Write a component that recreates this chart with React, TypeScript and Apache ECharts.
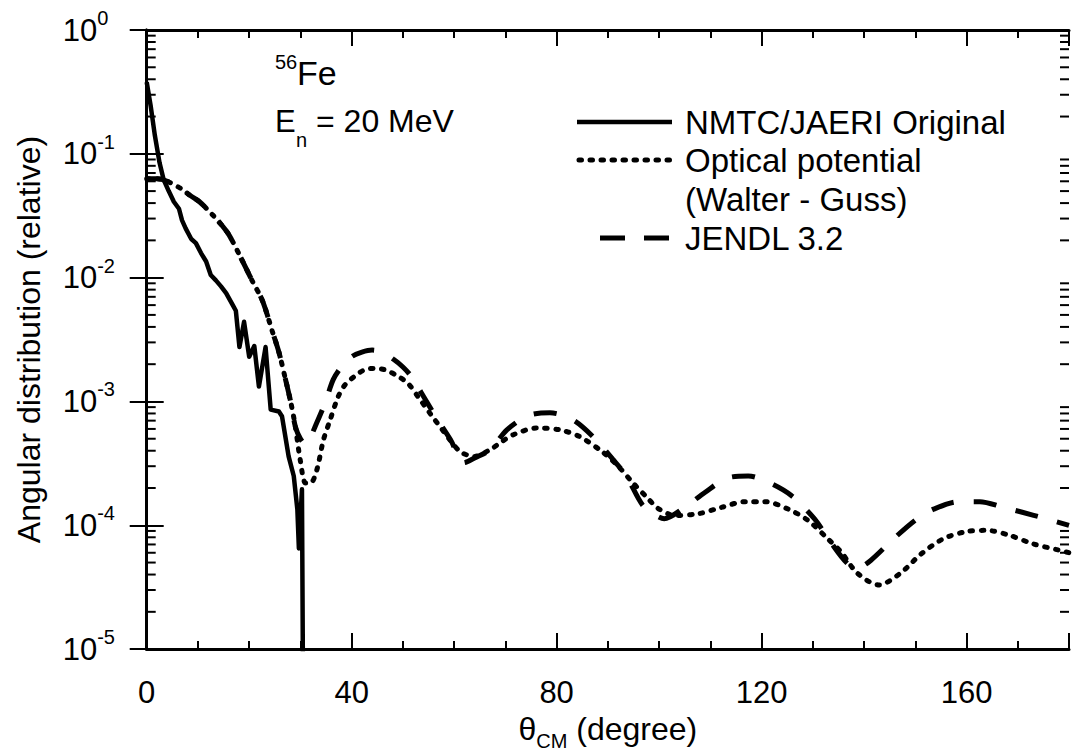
import React, { useEffect, useRef } from 'react';
import * as echarts from 'echarts';

const FONT = '"Liberation Sans", Arial, Helvetica, sans-serif';

// NMTC/JAERI Original (solid)
const nmtcAngle = [0, 0.8, 1.6, 2.5, 3.3, 4.3, 5.3, 6.3, 6.9, 7.6, 8.7, 9.6, 10.6, 11.6, 12.5, 13.5, 14.5, 15.5, 16.8, 17.4, 18.1, 19.0, 20.0, 21.0, 21.9, 23.2, 24.2, 25.8, 26.4, 27.7, 28.7, 29.4, 29.7, 30.3, 30.6];
const nmtcValue = [0.38, 0.24, 0.14, 0.085, 0.062, 0.05, 0.041, 0.036, 0.029, 0.025, 0.0205, 0.019, 0.0158, 0.0135, 0.0105, 0.0095, 0.0085, 0.0075, 0.006, 0.0054, 0.00275, 0.0044, 0.0023, 0.0028, 0.00132, 0.00275, 0.00086, 0.00083, 0.00076, 0.00036, 0.00025, 0.000135, 0.000065, 0.000195, 0.000001];

// Optical potential (Walter - Guss) (dotted)
const opticalAngle = [0, 2, 4, 6.8, 8.5, 10.3, 12.9, 14.5, 16.1, 18.7, 20.6, 22.6, 24.5, 25.8, 27.1, 28.2, 29.0, 30.0, 31.0, 32.0, 33.2, 34.5, 35.8, 37.4, 38.7, 40.6, 42.5, 44.5, 46.5, 49, 51, 52.9, 55.5, 57.7, 59.5, 61.3, 63.9, 67.1, 69.5, 71.6, 76.1, 80.6, 84.5, 89, 92, 94.9, 97.5, 100, 103.2, 107.7, 112.3, 116.8, 120.7, 125.2, 129, 132.9, 135.5, 138.7, 142.9, 147.1, 151, 155.5, 160, 163.9, 168.4, 172.9, 178, 180];
const opticalValue = [0.063, 0.063, 0.06, 0.052, 0.046, 0.041, 0.032, 0.027, 0.022, 0.0136, 0.0094, 0.0065, 0.0037, 0.0025, 0.0015, 0.00095, 0.00063, 0.00033, 0.00022, 0.00022, 0.00028, 0.00049, 0.00071, 0.0011, 0.00136, 0.0016, 0.0018, 0.00185, 0.0018, 0.0016, 0.0014, 0.0011, 0.00078, 0.00059, 0.00047, 0.00039, 0.00036, 0.00041, 0.00048, 0.00054, 0.00061, 0.00059, 0.00052, 0.00039, 0.0003, 0.00022, 0.00017, 0.000135, 0.00012, 0.000124, 0.00014, 0.000155, 0.000155, 0.000135, 0.00011, 0.000078, 0.000061, 0.000041, 0.000033, 0.000041, 0.000058, 0.000078, 0.000089, 0.000091, 0.000083, 0.000071, 0.000063, 0.00006];

// JENDL 3.2 (long dashes)
const jendlAngle = [0, 2, 4, 6.8, 8.5, 10.3, 12.9, 14.5, 16.1, 18.7, 20.6, 22.6, 24.5, 25.8, 27.1, 28.2, 29.0, 30, 31, 32, 32.9, 34.8, 36.4, 38, 40, 42, 44, 46, 48.1, 50, 51.6, 54.8, 56.8, 59.3, 61.9, 64, 67.1, 70.3, 74.5, 78.7, 83.2, 87.1, 91, 93.6, 96.8, 99.4, 101, 104.5, 109, 113.2, 117.4, 121.6, 125.8, 130.3, 133.2, 136.8, 139, 141.3, 145.8, 150, 153.6, 158.4, 162.6, 167.1, 170.7, 175.5, 180];
const jendlValue = [0.063, 0.063, 0.06, 0.052, 0.046, 0.041, 0.032, 0.027, 0.022, 0.0136, 0.0094, 0.0065, 0.0037, 0.0025, 0.0015, 0.00095, 0.00063, 0.0005, 0.00045, 0.00052, 0.00063, 0.00097, 0.0015, 0.0019, 0.0023, 0.0025, 0.0026, 0.0025, 0.0022, 0.0019, 0.0016, 0.00097, 0.00071, 0.00049, 0.00032, 0.00035, 0.00041, 0.00059, 0.00077, 0.00081, 0.00071, 0.00052, 0.00034, 0.00025, 0.000145, 0.00012, 0.000113, 0.000135, 0.000185, 0.00024, 0.00025, 0.00022, 0.000174, 0.000113, 0.000076, 0.000049, 0.000046, 0.000052, 0.000078, 0.00011, 0.000135, 0.000155, 0.000155, 0.00014, 0.000128, 0.000113, 0.0001];

const seriesNames = ['NMTC/JAERI Original', 'Optical potential', '(Walter - Guss)', 'JENDL 3.2'];
const xTickLabels = ['0', '40', '80', '120', '160'];
const yTickValues = [1e-5, 1e-4, 1e-3, 1e-2, 1e-1, 1];
const yTickExponents = ['-5', '-4', '-3', '-2', '-1', '0'];

const zip = (a: number[], b: number[]) => a.map((x, i) => [x, b[i]]);

export default function App() {
  const ref = useRef<HTMLDivElement>(null);
  useEffect(() => {
    if (!ref.current) return;
    const chart = echarts.init(ref.current, null, { renderer: 'svg' });

    const minorY: number[][] = [];
    for (let d = -5; d < 0; d++) {
      for (let m = 2; m <= 9; m++) minorY.push([0, m * Math.pow(10, d)]);
    }

    const black = '#000';
    const xBase = {
      type: 'value' as const,
      min: 0,
      max: 180,
      splitLine: { show: false },
      axisLabel: { show: false },
    };

    const option: any = {
      animation: false,
      backgroundColor: '#fff',
      grid: { left: 146.7, top: 30, width: 930, height: 625, containLabel: false },
      xAxis: [
        {
          ...xBase,
          position: 'bottom',
          interval: 10,
          axisLine: { show: true, lineStyle: { color: black, width: 3 } },
          axisTick: { show: true, inside: true, length: 8, lineStyle: { color: black, width: 2 } },
        },
        {
          ...xBase,
          position: 'bottom',
          interval: 40,
          axisLine: { show: false },
          axisTick: { show: true, inside: true, length: 16, lineStyle: { color: black, width: 2 } },
          axisLabel: {
            show: true,
            margin: 28,
            color: black,
            fontSize: 31,
            fontFamily: FONT,
            formatter: (v: number) => {
              const i = Math.round(v / 40);
              return Math.abs(v - i * 40) < 1e-6 && i < xTickLabels.length ? xTickLabels[i] : '';
            },
          },
          name: '{t|θ}{s|CM}{t| (degree)}',
          nameLocation: 'middle',
          nameGap: 47,
          nameTextStyle: {
            color: black,
            rich: {
              t: { fontSize: 32, fontFamily: FONT, color: black, lineHeight: 44 },
              s: { fontSize: 20, fontFamily: FONT, color: black, lineHeight: 14, verticalAlign: 'bottom' },
            },
          },
        },
        {
          ...xBase,
          position: 'top',
          interval: 10,
          axisLine: { show: true, lineStyle: { color: black, width: 3 } },
          axisTick: { show: true, inside: true, length: 8, lineStyle: { color: black, width: 2 } },
        },
        {
          ...xBase,
          position: 'top',
          interval: 40,
          axisLine: { show: false },
          axisTick: { show: true, inside: true, length: 16, lineStyle: { color: black, width: 2 } },
        },
      ],
      yAxis: [
        {
          type: 'log',
          logBase: 10,
          min: 1e-5,
          max: 1,
          position: 'left',
          splitLine: { show: false },
          axisLine: { show: true, lineStyle: { color: black, width: 3 } },
          axisTick: { show: true, inside: true, length: 17, lineStyle: { color: black, width: 2 } },
          axisLabel: {
            show: true,
            showMinLabel: true,
            showMaxLabel: true,
            align: 'left',
            margin: 84,
            formatter: (v: number) => {
              let best = 0;
              for (let i = 0; i < yTickValues.length; i++) {
                if (Math.abs(Math.log10(v) - Math.log10(yTickValues[i])) < Math.abs(Math.log10(v) - Math.log10(yTickValues[best]))) best = i;
              }
              return '{b|10}{s|' + yTickExponents[best] + '}';
            },
            rich: {
              b: { fontSize: 31, fontFamily: FONT, color: black, lineHeight: 44 },
              s: { fontSize: 20, fontFamily: FONT, color: black, lineHeight: 24, verticalAlign: 'top' },
            },
          },
          name: 'Angular distribution (relative)',
          nameLocation: 'middle',
          nameGap: 102,
          nameTextStyle: { color: black, fontSize: 32, fontFamily: FONT },
        },
        {
          type: 'log',
          logBase: 10,
          min: 1e-5,
          max: 1,
          position: 'right',
          splitLine: { show: false },
          axisLine: { show: true, lineStyle: { color: black, width: 3 } },
          axisTick: { show: true, inside: true, length: 17, lineStyle: { color: black, width: 2 } },
          axisLabel: { show: false },
        },
      ],
      series: [
        {
          name: seriesNames[0],
          type: 'line',
          xAxisIndex: 1,
          yAxisIndex: 0,
          data: zip(nmtcAngle, nmtcValue),
          showSymbol: false,
          clip: true,
          lineStyle: { color: black, width: 4.5, join: 'round' },
          z: 4,
        },
        {
          name: seriesNames[1],
          type: 'line',
          xAxisIndex: 1,
          yAxisIndex: 0,
          data: zip(opticalAngle, opticalValue),
          showSymbol: false,
          smooth: 0.3,
          clip: true,
          lineStyle: { color: black, width: 5, type: [2.5, 8.5], cap: 'round' },
          z: 3,
        },
        {
          name: seriesNames[3],
          type: 'line',
          xAxisIndex: 1,
          yAxisIndex: 0,
          data: zip(jendlAngle, jendlValue),
          showSymbol: false,
          smooth: 0.3,
          clip: true,
          lineStyle: { color: black, width: 5, type: [23, 20] },
          z: 3,
        },
        {
          type: 'custom',
          xAxisIndex: 1,
          yAxisIndex: 0,
          data: minorY,
          encode: { x: 0, y: 1 },
          silent: true,
          renderItem: (params: any, api: any) => {
            const v = api.value(1);
            const l = api.coord([0, v]);
            const r = api.coord([180, v]);
            const st = { stroke: black, lineWidth: 2 };
            return {
              type: 'group',
              children: [
                { type: 'line', shape: { x1: l[0], y1: l[1], x2: l[0] + 9, y2: l[1] }, style: st },
                { type: 'line', shape: { x1: r[0] - 9, y1: r[1], x2: r[0], y2: r[1] }, style: st },
              ],
            };
          },
        },
      ],
      graphic: [
        { type: 'text', left: 275, top: 52, style: { text: '56', fontSize: 20, fontFamily: FONT, fill: black } },
        { type: 'text', x: 297, y: 73, style: { text: 'Fe', fontSize: 34, fontFamily: FONT, fill: black, verticalAlign: 'middle' } },
        { type: 'text', x: 275, y: 121, style: { text: 'E', fontSize: 31, fontFamily: FONT, fill: black, verticalAlign: 'middle' } },
        { type: 'text', x: 296, y: 140, style: { text: 'n', fontSize: 20, fontFamily: FONT, fill: black, verticalAlign: 'middle' } },
        { type: 'text', x: 316, y: 121, style: { text: '= 20 MeV', fontSize: 32, fontFamily: FONT, fill: black, verticalAlign: 'middle' } },

        { type: 'line', shape: { x1: 577, y1: 122, x2: 672, y2: 122 }, style: { stroke: black, lineWidth: 4.5 } },
        { type: 'text', x: 685, y: 122, style: { text: seriesNames[0], fontSize: 33, fontFamily: FONT, fill: black, verticalAlign: 'middle' } },
        { type: 'line', shape: { x1: 579, y1: 160, x2: 672, y2: 160 }, style: { stroke: black, lineWidth: 5, lineDash: [2.5, 8.5], lineCap: 'round' } },
        { type: 'text', x: 685, y: 160, style: { text: seriesNames[1], fontSize: 33, fontFamily: FONT, fill: black, verticalAlign: 'middle' } },
        { type: 'text', x: 685, y: 199, style: { text: seriesNames[2], fontSize: 33, fontFamily: FONT, fill: black, verticalAlign: 'middle' } },
        { type: 'line', shape: { x1: 600, y1: 238, x2: 670, y2: 238 }, style: { stroke: black, lineWidth: 5, lineDash: [25, 19] } },
        { type: 'text', x: 685, y: 238, style: { text: seriesNames[3], fontSize: 33, fontFamily: FONT, fill: black, verticalAlign: 'middle' } },
      ],
    };

    chart.setOption(option);
    return () => chart.dispose();
  }, []);

  return <div ref={ref} style={{ position: 'fixed', left: 0, top: 0, width: 1072, height: 756, background: '#fff' }} />;
}
